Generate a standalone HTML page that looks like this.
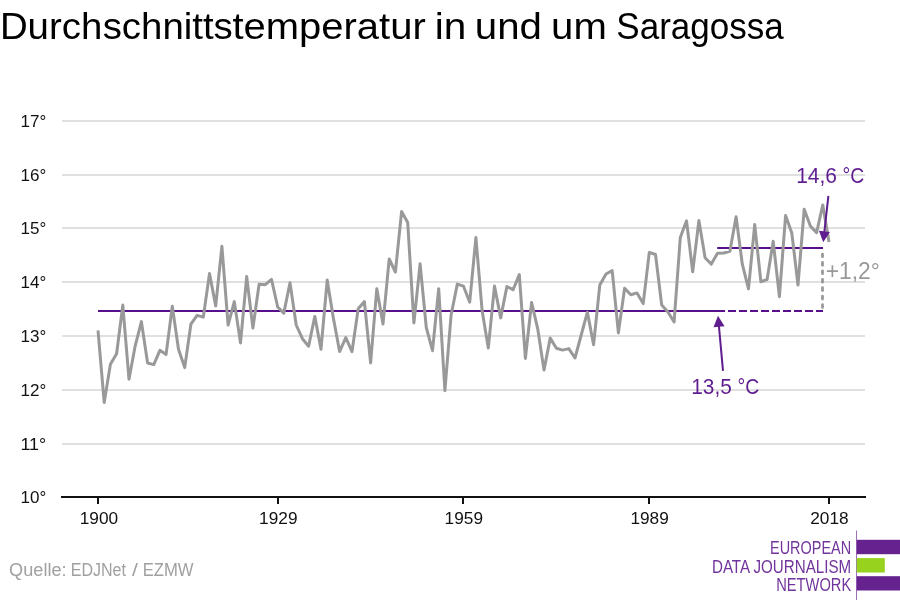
<!DOCTYPE html>
<html><head><meta charset="utf-8"><title>Durchschnittstemperatur in und um Saragossa</title>
<style>
html,body{margin:0;padding:0;background:#fff;}
body{width:900px;height:600px;overflow:hidden;font-family:"Liberation Sans",sans-serif;}
svg{display:block;will-change:transform;font-family:"Liberation Sans",sans-serif;}
</style></head><body>
<svg width="900" height="600" viewBox="0 0 900 600">
<rect width="900" height="600" fill="#fff"/>
<g font-size="37" fill="#000"><text x="-0.11" y="38.7" textLength="102.35" lengthAdjust="spacingAndGlyphs">Durch</text><text x="102.66" y="38.7" textLength="130.13" lengthAdjust="spacingAndGlyphs">schnitts</text><text x="232.46" y="38.7" textLength="193.27" lengthAdjust="spacingAndGlyphs">temperatur</text><text x="434.76" y="38.7" textLength="31.57" lengthAdjust="spacingAndGlyphs">in</text><text x="474.78" y="38.7" textLength="67.12" lengthAdjust="spacingAndGlyphs">und</text><text x="551.09" y="38.7" textLength="55.72" lengthAdjust="spacingAndGlyphs">um</text><text x="616.34" y="38.7" textLength="167.35" lengthAdjust="spacingAndGlyphs">Saragossa</text></g>
<g><rect x="62" y="120" width="803" height="2" fill="#e0e0e0"/><rect x="62" y="174" width="803" height="2" fill="#e0e0e0"/><rect x="62" y="227" width="803" height="2" fill="#e0e0e0"/><rect x="62" y="281" width="803" height="2" fill="#e0e0e0"/><rect x="62" y="335" width="803" height="2" fill="#e0e0e0"/><rect x="62" y="389" width="803" height="2" fill="#e0e0e0"/><rect x="62" y="443" width="803" height="2" fill="#e0e0e0"/></g>
<g font-size="16.5" fill="#111"><text x="20.46" y="126.9" textLength="25.78" lengthAdjust="spacingAndGlyphs">17°</text><text x="20.46" y="180.9" textLength="25.78" lengthAdjust="spacingAndGlyphs">16°</text><text x="20.46" y="233.9" textLength="25.78" lengthAdjust="spacingAndGlyphs">15°</text><text x="20.46" y="287.9" textLength="25.78" lengthAdjust="spacingAndGlyphs">14°</text><text x="20.46" y="341.9" textLength="25.78" lengthAdjust="spacingAndGlyphs">13°</text><text x="20.46" y="395.9" textLength="25.78" lengthAdjust="spacingAndGlyphs">12°</text><text x="20.46" y="449.9" textLength="25.78" lengthAdjust="spacingAndGlyphs">11°</text><text x="20.46" y="502.9" textLength="25.78" lengthAdjust="spacingAndGlyphs">10°</text></g>
<line x1="98" y1="311" x2="724.7" y2="311" stroke="#570f8b" stroke-width="2"/>
<line x1="717" y1="311" x2="823" y2="311" stroke="#570f8b" stroke-width="2" stroke-dasharray="8 3"/>
<line x1="717.2" y1="248" x2="823" y2="248" stroke="#570f8b" stroke-width="2"/>
<polyline points="98.0,330.3 104.2,402.4 110.4,364.2 116.6,353.7 122.8,305.1 129.0,379.2 135.2,345.8 141.4,321.6 147.6,363.0 153.8,364.6 159.9,350.3 166.1,354.4 172.3,306.3 178.5,349.2 184.7,367.6 190.9,324.2 197.1,315.4 203.3,317.1 209.5,273.6 215.7,305.9 221.9,246.3 228.1,325.1 234.3,301.6 240.5,342.9 246.7,276.6 252.9,328.1 259.1,284.2 265.3,284.7 271.5,279.4 277.7,307.0 283.8,313.1 290.0,282.8 296.2,325.0 302.4,338.7 308.6,346.2 314.8,316.4 321.0,349.2 327.2,280.1 333.4,318.3 339.6,351.6 345.8,337.6 352.0,351.6 358.2,308.8 364.4,301.6 370.6,362.9 376.8,288.8 383.0,323.9 389.2,259.0 395.4,272.0 401.6,211.6 407.7,222.5 413.9,322.9 420.1,263.8 426.3,327.5 432.5,350.7 438.7,288.7 444.9,390.7 451.1,315.0 457.3,284.1 463.5,286.2 469.7,302.2 475.9,237.6 482.1,310.4 488.3,347.9 494.5,286.1 500.7,317.9 506.9,286.5 513.1,289.7 519.3,274.6 525.4,358.4 531.6,302.5 537.8,329.2 544.0,370.1 550.2,338.1 556.4,348.3 562.6,350.1 568.8,348.6 575.0,358.0 581.2,335.0 587.4,312.2 593.6,344.7 599.8,285.0 606.0,274.0 612.2,270.6 618.4,332.9 624.6,288.3 630.8,294.8 637.0,292.9 643.2,303.6 649.3,252.4 655.5,254.5 661.7,305.0 667.9,312.0 674.1,321.9 680.3,237.5 686.5,220.8 692.7,271.7 698.9,220.4 705.1,257.8 711.3,264.1 717.5,253.3 723.7,253.0 729.9,251.3 736.1,216.8 742.3,264.2 748.5,288.9 754.7,224.6 760.9,281.8 767.1,279.5 773.2,241.3 779.4,296.7 785.6,215.5 791.8,233.0 798.0,285.1 804.2,209.2 810.4,226.1 816.6,232.7 822.8,204.9 829.0,242.1" fill="none" stroke="#999" stroke-width="3" stroke-linejoin="round" stroke-linecap="butt"/>
<rect x="61" y="496" width="805" height="2" fill="#111"/>
<g><rect x="97" y="497" width="2" height="7" fill="#111"/><rect x="277" y="497" width="2" height="7" fill="#111"/><rect x="462" y="497" width="2" height="7" fill="#111"/><rect x="648" y="497" width="2" height="7" fill="#111"/><rect x="828" y="497" width="2" height="7" fill="#111"/></g>
<g font-size="16.5" fill="#111"><text x="98.9" y="523.8" text-anchor="middle" textLength="38.4" lengthAdjust="spacingAndGlyphs">1900</text><text x="278.3" y="523.8" text-anchor="middle" textLength="38.4" lengthAdjust="spacingAndGlyphs">1929</text><text x="463.8" y="523.8" text-anchor="middle" textLength="38.4" lengthAdjust="spacingAndGlyphs">1959</text><text x="649.6" y="523.8" text-anchor="middle" textLength="38.4" lengthAdjust="spacingAndGlyphs">1989</text><text x="829.4" y="523.8" text-anchor="middle" textLength="38.4" lengthAdjust="spacingAndGlyphs">2018</text></g>
<line x1="822.5" y1="254.05" x2="822.5" y2="308" stroke="#999" stroke-width="2.8" stroke-linecap="round" stroke-dasharray="2.8 5.63"/>
<line x1="723.0" y1="370.8" x2="718.9" y2="325.8" stroke="#5f1d90" stroke-width="2"/><polygon points="718.0,315.8 724.5,326.3 713.5,327.3" fill="#5f1d90"/>
<line x1="828.4" y1="195.9" x2="824.3" y2="232.3" stroke="#5f1d90" stroke-width="2"/><polygon points="823.2,242.2 819.0,230.7 829.9,231.9" fill="#5f1d90"/>
<g font-size="22.8" fill="#5f1d90">
<text x="796.19" y="182.5" textLength="40.85" lengthAdjust="spacingAndGlyphs">14,6</text><text x="842.44" y="182.5" textLength="21.78" lengthAdjust="spacingAndGlyphs">°C</text>
<text x="691.2" y="393.5" textLength="40.6" lengthAdjust="spacingAndGlyphs">13,5</text><text x="737.44" y="393.5" textLength="21.78" lengthAdjust="spacingAndGlyphs">°C</text>
</g>
<text x="825.72" y="278.75" font-size="24.2" fill="#999" textLength="54.12" lengthAdjust="spacingAndGlyphs">+1,2°</text>
<g font-size="17.6" fill="#a0a0a0">
<text x="9.13" y="576.4" textLength="57.52" lengthAdjust="spacingAndGlyphs">Quelle:</text><text x="70.73" y="576.4" textLength="55.28" lengthAdjust="spacingAndGlyphs">EDJNet</text><text x="131.9" y="576.4" textLength="5.9" lengthAdjust="spacingAndGlyphs">/</text><text x="142.68" y="576.4" textLength="50.86" lengthAdjust="spacingAndGlyphs">EZMW</text>
</g>
<g font-size="18.2" fill="#71359c">
<text x="770.0" y="554" textLength="81.15" lengthAdjust="spacingAndGlyphs">EUROPEAN</text>
<text x="711.95" y="572.6" textLength="139.27" lengthAdjust="spacingAndGlyphs">DATA JOURNALISM</text>
<text x="776.19" y="590.6" textLength="74.99" lengthAdjust="spacingAndGlyphs">NETWORK</text>
</g>
<rect x="856" y="530.5" width="1" height="70" fill="#9a70b9"/>
<rect x="856.7" y="539.8" width="44" height="14.4" fill="#66228f"/>
<rect x="856.7" y="558.1" width="28.1" height="14.4" fill="#97d31e"/>
<rect x="856.7" y="576.2" width="44" height="14.3" fill="#66228f"/>
</svg>
</body></html>
